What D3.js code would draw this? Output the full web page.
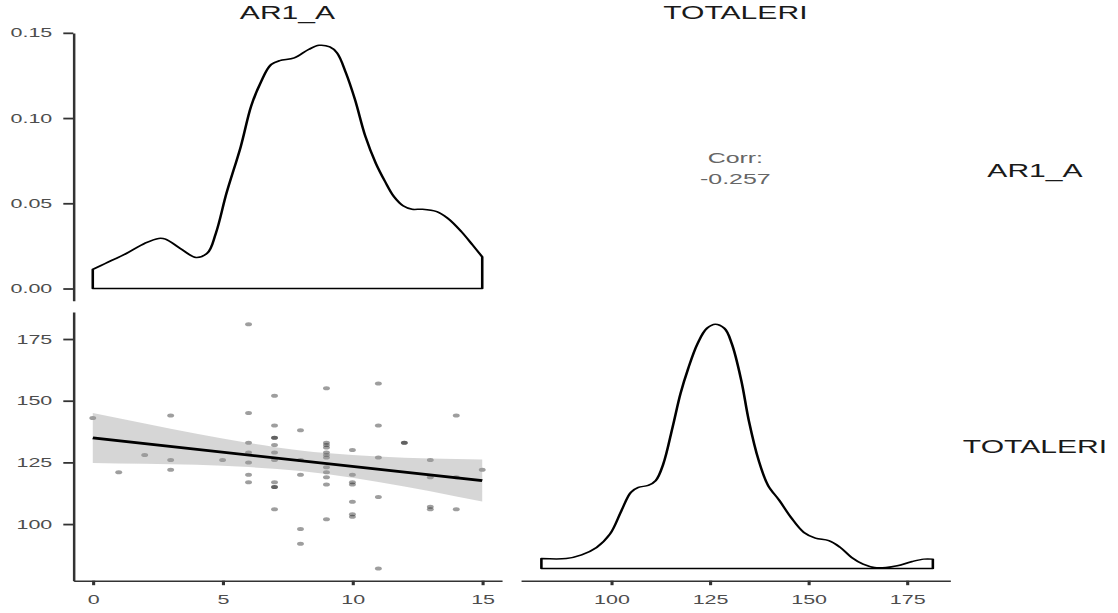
<!DOCTYPE html>
<html><head><meta charset="utf-8">
<script src="https://cdn.jsdelivr.net/npm/d3@7"></script>
<style>body{margin:0;background:#fff}svg{display:block;font-family:"Liberation Sans",Arial,sans-serif}</style>
</head><body>
<svg id="c" width="1118" height="613"></svg>
<script>
// ---- data ----
const varNames = ["AR1_A", "TOTALERI"];
const corrLabel = "Corr:";
const corrValue = "-0.257";

const densA_x = [0,0.48,1.3,2.0,2.54,2.8,3.37,3.98,4.4,4.74,5.15,5.7,6.1,6.46,6.87,7.2,7.76,8.31,8.72,9.13,9.41,9.75,10.1,10.5,10.9,11.26,11.6,11.95,12.3,12.7,13.25,13.67,14.2,14.63,15];
const densA_y = [0.0112,0.0147,0.0206,0.0265,0.0294,0.029,0.0235,0.0182,0.0206,0.0324,0.0559,0.0833,0.107,0.1206,0.1314,0.1337,0.1353,0.1402,0.1427,0.1418,0.1382,0.1265,0.1108,0.0892,0.0735,0.0627,0.0539,0.0486,0.0465,0.0465,0.0451,0.0412,0.0333,0.0255,0.0186];

const densT_x = [82.3,88.6,92.5,96.3,99.7,102.6,105,106.9,109.4,111.3,113.2,115.6,117.6,119.5,121.9,124.3,126.4,128.7,130.6,133,134.9,137.4,139.8,142.7,145.6,148.9,151.8,155.2,158.1,161,163.9,166.8,169.7,172.6,176.4,179.3,181.6];
const densT_y = [0.00123,0.00123,0.00168,0.00259,0.00423,0.0071,0.00936,0.00997,0.0102,0.0108,0.0128,0.0174,0.0215,0.0245,0.0276,0.0295,0.030,0.0295,0.0276,0.0231,0.0182,0.0133,0.0102,0.00833,0.00628,0.00443,0.00373,0.00341,0.00259,0.00135,0.00053,0.00012,0.00012,0.00033,0.00086,0.00115,0.00115];

const ar1 = [0,1,2,3,3,3,5,
  6,6,6,6,6,6,6,
  7,7,7,7,7,7,7,7,7,7,7,
  8,8,8,8,8,
  9,9,9,9,9,9,9,9,9,9,9,9,
  10,10,10,10,10,10,10,
  11,11,11,11,11,
  12,12,
  13,13,13,13,
  14,14,14,
  15];
const totaleri = [143,121,128,144,126,122,126,
  181,145,133,129,125,120,117,
  152,140,135,135,132,129,126,117,115,115,106,
  138,126,120,98,92,
  155,133,132,131,129,128,127,123,121,119,116,102,
  130,120,117,116,109,104,103,
  157,140,127,111,82,
  133,133,
  126,119,107,106,
  144,119,106,
  122];

const fitX = [0, 15];
const fitY = [134.9, 117.6];
const bandX  = [0, 2, 4, 6, 8, 10, 12, 14, 15];
const bandLo = [124.75,124.4,124.0,123.1,121.5,118.8,115.2,111.2,109.1];
const bandHi = [145.05,140.8,136.6,132.9,129.8,128.0,126.9,126.4,126.2];

const densTicks = [0, 0.05, 0.10, 0.15];
const ar1Ticks = [0, 5, 10, 15];
const totTicks = [100, 125, 150, 175];

// ---- layout ----
const SX = 1.72;
const ix = v => v / SX;
const P = {x0:73.3, x1:501.7, x2:520.7, x3:950, y0:33, y1:300.7, y2:312, y3:580.7};

const svg = d3.select('#c');
const g = svg.append('g').attr('transform', `scale(${SX},1)`);

const xA = d3.scaleLinear().domain([-0.75, 15.75]).range([ix(P.x0), ix(P.x1)]);
const xT = d3.scaleLinear().domain([77.05, 185.95]).range([ix(P.x2), ix(P.x3)]);
const yDA = d3.scaleLinear().domain([-0.00715, 0.1499]).range([P.y1, P.y0]);
const yT = d3.scaleLinear().domain([77.05, 185.95]).range([P.y3, P.y2]);
const yDT = d3.scaleLinear().domain([-0.0015, 0.0315]).range([P.y3, P.y2]);

function styleAxis(sel, fs) {
  sel.attr('font-family', null).attr('font-size', null);
  sel.select('.domain').attr('stroke', '#333').attr('stroke-width', 1.45);
  sel.selectAll('.tick line').attr('stroke', '#333').attr('stroke-width', 1.8);
  sel.selectAll('.tick text').attr('fill', '#4d4d4d').style('font-size', fs + 'px')
     .style('font-family', '"Liberation Sans", Arial, sans-serif');
}

// top-left y axis (density)
g.append('g').attr('transform', `translate(${ix(P.x0)},0)`)
  .call(d3.axisLeft(yDA).tickValues(densTicks).tickFormat(d3.format('.2f'))
        .tickSize(ix(10)).tickSizeOuter(0).tickPadding(ix(11)))
  .call(s => styleAxis(s, 12.5));

// bottom-left y axis
g.append('g').attr('transform', `translate(${ix(P.x0)},0)`)
  .call(d3.axisLeft(yT).tickValues(totTicks).tickSize(ix(10)).tickSizeOuter(0).tickPadding(ix(11)))
  .call(s => styleAxis(s, 12.5));

// bottom x axes
g.append('g').attr('transform', `translate(0,${P.y3})`)
  .call(d3.axisBottom(xA).tickValues(ar1Ticks).tickSize(4.5).tickSizeOuter(0).tickPadding(10.3))
  .call(s => styleAxis(s, 12.5));
g.append('g').attr('transform', `translate(0,${P.y3})`)
  .call(d3.axisBottom(xT).tickValues(totTicks).tickSize(4.5).tickSizeOuter(0).tickPadding(10.3))
  .call(s => styleAxis(s, 12.5));

// top-left density
const areaA = d3.area().x((d,i) => xA(densA_x[i])).y0(yDA(0)).y1((d,i) => yDA(densA_y[i])).curve(d3.curveCatmullRom);
g.append('path').datum(densA_x).attr('d', areaA)
  .attr('fill', 'none').attr('stroke', '#000').attr('stroke-width', 1.5).attr('stroke-linejoin', 'round');

// bottom-right density
const areaT = d3.area().x((d,i) => xT(densT_x[i])).y0(yDT(0)).y1((d,i) => yDT(densT_y[i])).curve(d3.curveCatmullRom);
g.append('path').datum(densT_x).attr('d', areaT)
  .attr('fill', 'none').attr('stroke', '#000').attr('stroke-width', 1.5).attr('stroke-linejoin', 'round');

// scatter points
g.append('g').selectAll('circle').data(ar1).join('circle')
  .attr('cx', (d,i) => xA(ar1[i])).attr('cy', (d,i) => yT(totaleri[i]))
  .attr('r', 2).attr('fill', '#000').attr('fill-opacity', 0.38);

// confidence band
const band = d3.area().x((d,i) => xA(bandX[i])).y0((d,i) => yT(bandLo[i])).y1((d,i) => yT(bandHi[i])).curve(d3.curveMonotoneX);
g.append('path').datum(bandX).attr('d', band).attr('fill', '#999999').attr('fill-opacity', 0.4);

// fit line
g.append('path').datum(fitX)
  .attr('d', d3.line().x((d,i) => xA(fitX[i])).y((d,i) => yT(fitY[i])))
  .attr('stroke', '#000').attr('stroke-width', 2.8).attr('fill', 'none');

// strip labels
const strip = (txt, cx, base) => g.append('text').attr('x', ix(cx)).attr('y', base)
  .attr('text-anchor', 'middle').style('font-size', '17.5px').attr('fill', '#1a1a1a').text(txt);
strip(varNames[0], (P.x0 + P.x1) / 2, 19);
strip(varNames[1], (P.x2 + P.x3) / 2, 19);
strip(varNames[0], 1035, 177);
strip(varNames[1], 1035, 453);

// correlation text
const cx = (P.x2 + P.x3) / 2;
g.append('text').attr('x', ix(cx)).attr('y', 163.5).attr('text-anchor', 'middle')
  .style('font-size', '14.5px').attr('fill', '#666').text(corrLabel);
g.append('text').attr('x', ix(cx)).attr('y', 184.5).attr('text-anchor', 'middle')
  .style('font-size', '14.5px').attr('fill', '#666').text(corrValue);
</script>
</body></html>
